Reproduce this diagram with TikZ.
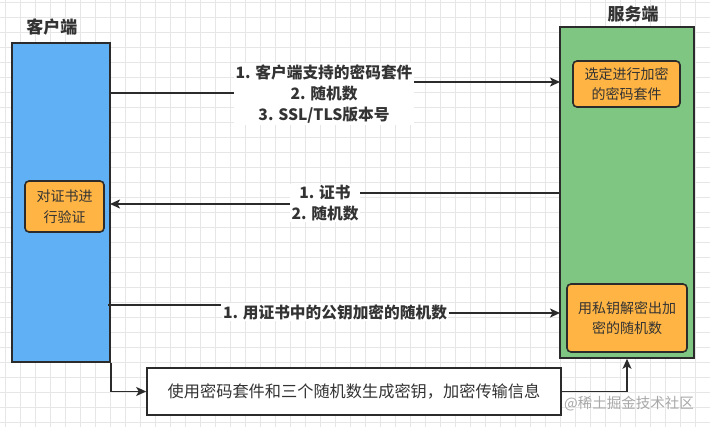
\documentclass[tikz,border=0pt]{standalone}
\usepackage{fontspec}
\setmainfont{Noto Sans CJK SC}
\usetikzlibrary{arrows.meta}
\definecolor{cblue}{HTML}{60B0F5}
\definecolor{sgreen}{HTML}{7EC682}
\definecolor{obox}{HTML}{FFB443}
\definecolor{edgec}{HTML}{2B2B2B}
\definecolor{txt}{HTML}{333333}
\definecolor{gridc}{HTML}{E6E6E6}
\definecolor{wmark}{HTML}{A8A8A8}
\begin{document}
\begin{tikzpicture}[x=1pt,y=-1pt,
  bigbox/.style={draw=edgec,line width=1.6pt,inner sep=0pt},
  innerbox/.style={draw=edgec,line width=1.6pt,fill=obox,rounded corners=4pt,align=center,text=txt,inner sep=0pt,font=\fontsize{14}{20.5}\selectfont},
  title/.style={text=txt,font=\fontsize{17}{20}\selectfont\bfseries},
  lbl/.style={fill=white,text=txt,align=center,inner sep=1.5pt,font=\fontsize{15.7}{21}\selectfont\bfseries},
  conn/.style={draw=edgec,line width=1.5pt},
  arr/.style={conn,-{Stealth[length=10pt,width=9pt,inset=2.5pt]}}
]
\useasboundingbox (0,0) rectangle (710,427);
\fill[white] (0,0) rectangle (710,427);
% grid
\foreach \gx in {5,20,...,710} \draw[gridc,line width=0.8pt] (\gx,0) -- (\gx,427);
\foreach \gy in {2,17,...,427} \draw[gridc,line width=0.8pt] (0,\gy) -- (710,\gy);

% main boxes
\node[bigbox,fill=cblue,minimum width=98pt,minimum height=319pt] (client) at (61,202.5) {};
\node[bigbox,fill=sgreen,minimum width=134pt,minimum height=331pt] (server) at (627,192.5) {};
\node[title] (ctitle) at (52,27) {客户端};
\node[title] (stitle) at (633,14) {服务端};

% inner boxes
\node[innerbox,minimum width=107pt,minimum height=46pt] (s1) at (626.5,84) {选定进行加密\\的密码套件};
\node[innerbox,minimum width=120pt,minimum height=68pt] (s2) at (627,318) {用私钥解密出加\\密的随机数};
\node[innerbox,minimum width=79pt,minimum height=51pt] (c1) at (64.5,206.5) {对证书进\\行验证};

% bottom box
\node[draw=edgec,line width=1.6pt,fill=white,minimum width=414pt,minimum height=47pt,text=txt,font=\fontsize{16.2}{20}\selectfont] (bottom) at (354,391.5) {使用密码套件和三个随机数生成密钥，加密传输信息};

% labels
\node[lbl] (l1) at (324,94) {1. 客户端支持的密码套件\\2. 随机数\\3. SSL/TLS版本号};
\node[lbl] (l2) at (325,203) {1. 证书\\2. 随机数};
\node[lbl] (l3) at (335,312) {1. 用证书中的公钥加密的随机数};

% connectors
\coordinate (a1) at (110,93);
\coordinate (b1) at (560,82);
\draw[conn] (a1) -- (l1.west |- a1);
\draw[arr] (l1.east |- b1) -- (b1);

\coordinate (a2) at (560,193);
\coordinate (b2) at (110,204);
\draw[conn] (a2) -- (l2.east |- a2);
\draw[arr] (l2.west |- b2) -- (b2);

\coordinate (a3) at (108,305);
\coordinate (b3) at (560,313);
\draw[conn] (a3) -- (l3.west |- a3);
\draw[arr] (l3.east |- b3) -- (b3);

\draw[arr] (client.south east) |- (bottom.west);
\draw[arr] (bottom.east) -| (server.south);

% watermark
\node[text=wmark,font=\fontsize{14.5}{16}\selectfont,inner sep=0pt] (wm) at (629,404) {@稀土掘金技术社区};
\end{tikzpicture}
\end{document}
